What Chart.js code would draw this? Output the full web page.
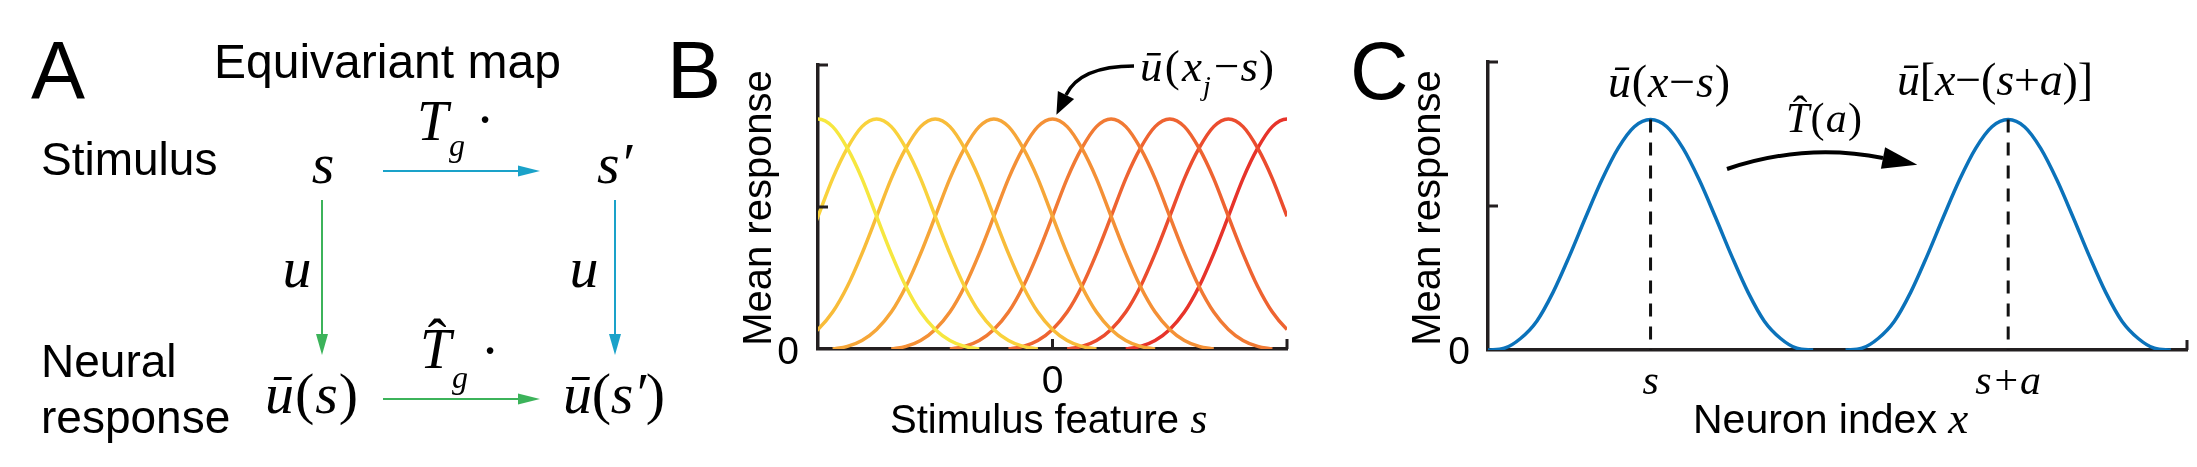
<!DOCTYPE html>
<html>
<head>
<meta charset="utf-8">
<title>Equivariant map</title>
<script src="https://cdn.jsdelivr.net/npm/chart.js@4.4.1/dist/chart.umd.min.js"></script>
<style>
  body { margin: 0; background: #fff; }
  #fig { position: relative; width: 2197px; height: 467px; overflow: hidden; background: #fff; }
  #fig canvas { position: absolute; top: 0; }
  #chartB { left: 700px; }
  #chartC { left: 1320px; }
  #overlay { position: absolute; left: 0; top: 0; }
  .sans { font-family: 'Liberation Sans', Arial, sans-serif; fill: #000; }
  .math { font-family: 'Liberation Serif', 'DejaVu Serif', serif; font-style: italic; fill: #000; }
  .up { font-style: normal; }
</style>
</head>
<body>
<div id="fig">
  <canvas id="chartB" width="600" height="467"></canvas>
  <canvas id="chartC" width="877" height="467"></canvas>

  <svg id="overlay" width="2197" height="467" viewBox="0 0 2197 467">
    <!-- panel letters -->
    <text class="sans" x="31" y="98" font-size="81">A</text>
    <text class="sans" x="667" y="98" font-size="81">B</text>
    <text class="sans" x="1350" y="99" font-size="81">C</text>

    <!-- A: equivariant map diagram -->
    <text class="sans" x="214" y="78" font-size="48">Equivariant map</text>
    <text class="sans" x="41" y="175" font-size="46">Stimulus</text>
    <text class="sans" x="41" y="377" font-size="46">Neural</text>
    <text class="sans" x="41" y="433" font-size="46">response</text>

    <text class="math" x="323" y="183" font-size="58" text-anchor="middle">s</text>
    <text class="math" x="597" y="183" font-size="58">s′</text>

    <text class="math" x="417" y="140" font-size="56">T</text>
    <text class="math" x="449" y="156" font-size="32">g</text>
    <text class="math up" x="485" y="139" font-size="56" text-anchor="middle">·</text>

    <text class="math" x="297" y="287" font-size="58" text-anchor="middle">u</text>
    <text class="math" x="584" y="287" font-size="58" text-anchor="middle">u</text>

    <text class="math" x="420" y="368" font-size="56">T</text>
    <text class="math up" x="437" y="358" font-size="56" text-anchor="middle">ˆ</text>
    <text class="math" x="452" y="388" font-size="32">g</text>
    <text class="math up" x="490" y="370" font-size="56" text-anchor="middle">·</text>

    <text class="math" x="265" y="413" font-size="58" textLength="93" lengthAdjust="spacing">ū<tspan class="up">(</tspan>s<tspan class="up">)</tspan></text>
    <text class="math" x="563" y="413" font-size="58" textLength="102" lengthAdjust="spacing">ū<tspan class="up">(</tspan>s′<tspan class="up">)</tspan></text>

    <g stroke-width="2" fill="none">
      <line x1="383" y1="171" x2="520" y2="171" stroke="#1aa2c9"/>
      <line x1="322" y1="200" x2="322" y2="337" stroke="#3cb35a"/>
      <line x1="615" y1="200" x2="615" y2="337" stroke="#1aa2c9"/>
      <line x1="383" y1="399" x2="520" y2="399" stroke="#3cb35a"/>
    </g>
    <polygon points="540,171 518,165.5 518,176.5" fill="#1aa2c9"/>
    <polygon points="322,355 316,334 328,334" fill="#3cb35a"/>
    <polygon points="615,355 609,334 621,334" fill="#1aa2c9"/>
    <polygon points="540,399 518,393.5 518,404.5" fill="#3cb35a"/>

    <!-- B: axis titles and annotation -->
    <text class="sans" font-size="40" text-anchor="middle" transform="translate(771,208) rotate(-90)">Mean response</text>
    <text class="sans" x="890" y="433" font-size="40">Stimulus feature <tspan class="math" font-size="44">s</tspan></text>

    <text class="math" x="1140" y="81" font-size="45" textLength="62" lengthAdjust="spacing">ū<tspan class="up">(</tspan>x</text>
    <text class="math" x="1203" y="95" font-size="28">j</text>
    <text class="math" x="1214" y="81" font-size="45" textLength="60" lengthAdjust="spacing"><tspan class="up">−</tspan>s<tspan class="up">)</tspan></text>
    <path d="M1134,66 Q1080,66 1066,95" stroke="#000" stroke-width="3.5" fill="none"/>
    <polygon points="1056.4,114.8 1074.1,98.9 1057.9,91.1" fill="#000"/>

    <!-- C: axis titles and annotations -->
    <text class="sans" font-size="40" text-anchor="middle" transform="translate(1440,208) rotate(-90)">Mean response</text>
    <text class="sans" x="1693" y="433" font-size="41">Neuron index <tspan class="math" font-size="45">x</tspan></text>

    <text class="math" x="1608" y="97" font-size="46" textLength="122" lengthAdjust="spacing">ū<tspan class="up">(</tspan>x<tspan class="up">−</tspan>s<tspan class="up">)</tspan></text>
    <text class="math" x="1897" y="95" font-size="46" textLength="196" lengthAdjust="spacing">ū<tspan class="up">[</tspan>x<tspan class="up">−(</tspan>s<tspan class="up">+</tspan>a<tspan class="up">)]</tspan></text>
    <text class="math" x="1786" y="132" font-size="42" textLength="76" lengthAdjust="spacing">T<tspan class="up">(</tspan>a<tspan class="up">)</tspan></text>
    <text class="math up" x="1800" y="126" font-size="44" text-anchor="middle">ˆ</text>
    <path d="M1727,169 Q1805,142.5 1883,158" stroke="#000" stroke-width="4" fill="none"/>
    <polygon points="1917.3,164.8 1880.9,168.8 1885.1,147.2" fill="#000"/>
  </svg>
</div>

<script>
// Panel B: tuning curves, one per neuron, over the stimulus feature
const prefStimuli = [-4, -3, -2, -1, 0, 1, 2, 3, 4];
const curveColors = ['#f6e73f', '#f9d23c', '#f8bc39', '#f6a638', '#f49036', '#f17a34', '#ee6331', '#eb4c2e', '#e7332a'];
const tuningOffsets = [-2.75, -2.5, -2.25, -2, -1.75, -1.5, -1.25, -1, -0.75, -0.5, -0.25, 0,
                       0.25, 0.5, 0.75, 1, 1.25, 1.5, 1.75, 2, 2.25, 2.5, 2.75];
const tuningValues = [0, 0.009, 0.03, 0.069, 0.13, 0.22, 0.336, 0.467, 0.6, 0.707, 0.783, 0.81,
                      0.783, 0.707, 0.6, 0.467, 0.336, 0.22, 0.13, 0.069, 0.03, 0.009, 0];
const stimRange = [-4, 4];
const stimTicks = [-4, 0, 4];
const stimTickLabels = ['', '0', ''];

// Panel C: population response, before and after the shift a
const neuronRange = [0, 43];
const neuronOffsets = [-10, -9, -8, -7, -6, -5, -4, -3, -2, -1, 0, 1, 2, 3, 4, 5, 6, 7, 8, 9, 10];
const bumpValues = [0, 0.006, 0.04, 0.1, 0.2, 0.325, 0.46, 0.59, 0.7, 0.775, 0.8,
                    0.775, 0.7, 0.59, 0.46, 0.325, 0.2, 0.1, 0.04, 0.006, 0];
const bumpCenters = [10, 32];
const neuronTicks = [10, 32];
const neuronTickLabels = ['s', 's+a'];

// shared response axis
const responseTicks = [0, 0.5, 1];
const responseTickLabels = ['0', '', ''];

const axisColor = '#231f20';
const sansFont = "'Liberation Sans', Arial, sans-serif";
const serifFont = "'Liberation Serif', 'DejaVu Serif', serif";

Chart.defaults.color = '#000';

// MATLAB style ticks pointing into the plot
const inwardTicks = {
    id: 'inwardTicks',
    afterDatasetsDraw(chart, args, opts) {
        const { ctx, chartArea, scales } = chart;
        ctx.save();
        ctx.strokeStyle = axisColor;
        ctx.lineWidth = 3;
        opts.x.forEach(v => {
            const px = scales.x.getPixelForValue(v);
            ctx.beginPath();
            ctx.moveTo(px, chartArea.bottom);
            ctx.lineTo(px, chartArea.bottom - 10);
            ctx.stroke();
        });
        opts.y.forEach(v => {
            const py = scales.y.getPixelForValue(v);
            ctx.beginPath();
            ctx.moveTo(chartArea.left, py);
            ctx.lineTo(chartArea.left + 10, py);
            ctx.stroke();
        });
        ctx.restore();
    }
};

function responseAxis(width, padding, labelOffset) {
    return {
        type: 'linear',
        min: 0,
        max: 1,
        grid: { display: false },
        border: { display: true, color: axisColor, width: 3.5 },
        afterBuildTicks: s => { s.ticks = responseTicks.map(v => ({ value: v })); },
        afterFit: s => { s.width = width; },
        ticks: {
            autoSkip: false,
            padding: padding,
            labelOffset: labelOffset,
            font: { family: sansFont, size: 39 },
            callback: (v, i) => responseTickLabels[i]
        }
    };
}

// Panel B
new Chart(document.getElementById('chartB'), {
    type: 'line',
    data: {
        datasets: prefStimuli.map((p, i) => ({
            data: tuningOffsets.map((d, k) => ({ x: p + d, y: tuningValues[k] })),
            borderColor: curveColors[i],
            borderWidth: 3.5,
            pointRadius: 0,
            cubicInterpolationMode: 'monotone',
            fill: false
        }))
    },
    options: {
        responsive: false,
        animation: false,
        events: [],
        layout: { padding: { top: 65, right: 13, left: 0, bottom: 0 } },
        plugins: {
            legend: { display: false },
            tooltip: { enabled: false },
            inwardTicks: { x: [0, 4], y: [0.5, 1] }
        },
        scales: {
            x: {
                type: 'linear',
                min: stimRange[0],
                max: stimRange[1],
                grid: { display: false },
                border: { display: true, color: axisColor, width: 3.5 },
                afterBuildTicks: s => { s.ticks = stimTicks.map(v => ({ value: v })); },
                afterFit: s => { s.height = 118; },
                ticks: {
                    autoSkip: false,
                    maxRotation: 0,
                    padding: 2,
                    font: { family: sansFont, size: 39 },
                    callback: (v, i) => stimTickLabels[i]
                }
            },
            y: responseAxis(118, 11, 4)
        }
    },
    plugins: [inwardTicks]
});

// Panel C
const peakValue = Math.max(...bumpValues);
const bumpSets = bumpCenters.map(c => ({
    data: neuronOffsets.map((d, k) => ({ x: c + d, y: bumpValues[k] })),
    borderColor: '#0b72ba',
    borderWidth: 3.5,
    pointRadius: 0,
    cubicInterpolationMode: 'monotone',
    fill: false
}));
const centreLines = bumpCenters.map(c => ({
    data: [{ x: c, y: peakValue }, { x: c, y: 0 }],
    borderColor: '#111',
    borderWidth: 3,
    borderDash: [13, 10],
    pointRadius: 0,
    fill: false
}));

new Chart(document.getElementById('chartC'), {
    type: 'line',
    data: { datasets: centreLines.concat(bumpSets) },
    options: {
        responsive: false,
        animation: false,
        events: [],
        layout: { padding: { top: 62, right: 10, left: 0, bottom: 0 } },
        plugins: {
            legend: { display: false },
            tooltip: { enabled: false },
            inwardTicks: { x: [neuronRange[1]], y: [0.5, 1] }
        },
        scales: {
            x: {
                type: 'linear',
                min: neuronRange[0],
                max: neuronRange[1],
                grid: { display: false },
                border: { display: true, color: axisColor, width: 3.5 },
                afterBuildTicks: s => { s.ticks = neuronTicks.map(v => ({ value: v })); },
                afterFit: s => { s.height = 117; },
                ticks: {
                    autoSkip: false,
                    maxRotation: 0,
                    padding: 0,
                    font: { family: serifFont, style: 'italic', size: 42 },
                    callback: (v, i) => neuronTickLabels[i]
                }
            },
            y: responseAxis(168, 10, 3)
        }
    },
    plugins: [inwardTicks]
});
</script>
</body>
</html>
